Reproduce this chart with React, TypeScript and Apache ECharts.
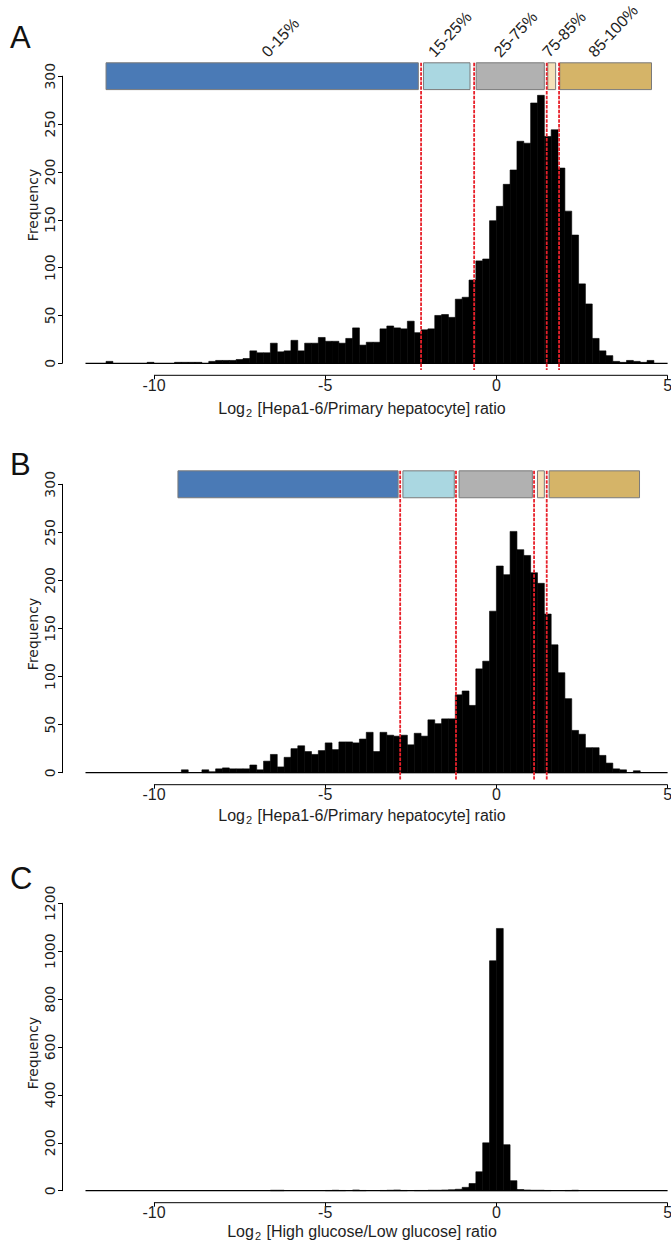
import React, { useEffect, useRef } from "react";
import * as echarts from "echarts";

// ---------- data ----------
const BIN_WIDTH = 0.2;
const X_MIN = -12;
const X_MAX = 5;
const X_TICKS = [-10, -5, 0, 5];

// Panel A: Log2 [Hepa1-6/Primary hepatocyte] ratio, bins of 0.2 starting at aStart
const aStart = -11.6;
const aCounts = [
  0, 2, 0, 0, 0, 0, 0, 1, 0, 0, 0, 1, 1, 1, 1, 0, 2, 3, 3, 3,
  4, 5, 13, 11, 11, 21, 12, 13, 24, 13, 21, 21, 27, 23, 23, 21, 26, 37, 19, 22,
  22, 36, 39, 37, 36, 44, 32, 35, 36, 50, 51, 48, 67, 69, 87, 107, 109, 149, 164, 187,
  202, 232, 230, 272, 280, 237, 244, 204, 159, 134, 83, 62, 26, 13, 8, 2, 1, 3, 2, 1,
  3,
];

// Panel B
const bStart = -9.4;
const bCounts = [
  0, 3, 0, 0, 3, 1, 4, 5, 4, 4, 4, 8, 3, 12, 19, 6, 16, 25, 28, 22,
  19, 23, 31, 24, 32, 32, 31, 35, 42, 22, 42, 39, 38, 39, 29, 41, 38, 55, 51, 56,
  56, 81, 85, 70, 108, 116, 168, 215, 206, 251, 232, 226, 208, 197, 165, 133, 104, 77, 44, 40,
  26, 26, 18, 10, 4, 3, 0, 2,
];

// Panel C: Log2 [High glucose/Low glucose] ratio
const cStart = -7.0;
const cCounts = [
  0, 0, 2, 2, 0, 0, 0, 0, 0, 0, 1, 2, 1, 0, 3, 1, 0, 0, 1, 2,
  3, 1, 0, 1, 1, 2, 2, 3, 4, 6, 14, 30, 79, 200, 960, 1095, 192, 42, 5, 3,
  2, 2, 1, 0, 0, 1, 2, 0,
];

// Percentile cut-offs (red dashed lines)
const aCutoffs = [-2.2, -0.65, 1.47, 1.83];
const bCutoffs = [-2.81, -1.18, 1.1, 1.47];

// Percentile segments drawn above the histograms
const aSegments = [
  [-11.4, -2.28],
  [-2.13, -0.77],
  [-0.59, 1.4],
  [1.5, 1.73],
  [1.85, 4.53],
];
const bSegments = [
  [-9.3, -2.87],
  [-2.73, -1.23],
  [-1.09, 1.05],
  [1.2, 1.4],
  [1.54, 4.18],
];
const segmentLabels = ["0-15%", "15-25%", "25-75%", "75-85%", "85-100%"];
const segmentLabelX = [-6.6, -1.74, 0.18, 1.6, 2.94];
const SEG_LOW = 286;
const SEG_HIGH = 314;
const LABEL_Y = 317;
const CUT_BOTTOM = -7;

// ---------- styles / layout ----------
const SEG_COLORS = ["#4a7ab6", "#aad7e1", "#b1b1b1", "#f4e1b8", "#d5b468"];
const SEG_STROKE = "#7a7a7a";
const RED = "#e8202a";
const TEXT = "#1e1e1e";
const SANS = "'Liberation Sans', Arial, sans-serif";
const DEJAVU = "'DejaVu Sans', Verdana, sans-serif";
const GRID_LEFT = 85.5;
const GRID_RIGHT = 3.4;
const X_AXIS_OFFSET = 12;
const Y_AXIS_OFFSET = 23.5;

const PANELS = [
  {
    top: 76.2, height: 287.1, yMax: 300, yStep: 50,
    start: aStart, counts: aCounts, cutoffs: aCutoffs, segments: aSegments, labels: true,
    letter: "A", letterY: 37, freqY: 205, titleY: 408,
    title: "{a|Log}{s|2}{a| [Hepa1-6/Primary hepatocyte] ratio}",
  },
  {
    top: 484.3, height: 288.4, yMax: 300, yStep: 50,
    start: bStart, counts: bCounts, cutoffs: bCutoffs, segments: bSegments, labels: false,
    letter: "B", letterY: 464, freqY: 634, titleY: 815,
    title: "{a|Log}{s|2}{a| [Hepa1-6/Primary hepatocyte] ratio}",
  },
  {
    top: 903.3, height: 287.4, yMax: 1200, yStep: 200,
    start: cStart, counts: cCounts, cutoffs: [] as number[], segments: [] as number[][], labels: false,
    letter: "C", letterY: 878, freqY: 1053, titleY: 1231,
    title: "{a|Log}{s|2}{a| [High glucose/Low glucose] ratio}",
  },
];

function histData(start: number, counts: number[]) {
  return counts.map((c, i) => {
    const x0 = Math.round((start + i * BIN_WIDTH) * 100) / 100;
    const x1 = Math.round((x0 + BIN_WIDTH) * 100) / 100;
    return [x0, x1, c];
  });
}

function buildOption() {
  const series: any[] = [];
  PANELS.forEach((p, i) => {
    // histogram bars
    series.push({
      type: "custom",
      name: "hist" + i,
      xAxisIndex: i,
      yAxisIndex: i,
      clip: false,
      encode: { x: [0, 1], y: 2 },
      data: histData(p.start, p.counts),
      renderItem: (params: any, api: any) => {
        const v = api.value(2);
        if (!v) return null;
        const p0 = api.coord([api.value(0), v]);
        const p1 = api.coord([api.value(1), 0]);
        return {
          type: "rect",
          shape: { x: p0[0], y: p0[1], width: p1[0] - p0[0], height: p1[1] - p0[1] },
          style: { fill: "#000", stroke: "#000", lineWidth: 0.6 },
        };
      },
    });
    // baseline and R-style x axis line
    series.push({
      type: "custom",
      name: "axes" + i,
      xAxisIndex: i,
      yAxisIndex: i,
      clip: false,
      encode: { x: [0, 1, 2, 3] },
      data: [[X_MIN, X_MAX, X_TICKS[0], X_TICKS[X_TICKS.length - 1]]],
      renderItem: (params: any, api: any) => {
        const b0 = api.coord([api.value(0), 0]);
        const b1 = api.coord([api.value(1), 0]);
        const a0 = api.coord([api.value(2), 0]);
        const a1 = api.coord([api.value(3), 0]);
        return {
          type: "group",
          children: [
            {
              type: "line",
              shape: { x1: b0[0], y1: b0[1], x2: b1[0], y2: b1[1] },
              style: { stroke: "#000", lineWidth: 1.2 },
            },
            {
              type: "line",
              shape: {
                x1: a0[0], y1: a0[1] + X_AXIS_OFFSET,
                x2: a1[0], y2: a1[1] + X_AXIS_OFFSET,
              },
              style: { stroke: "#000", lineWidth: 1 },
            },
          ],
        };
      },
    });
    if (p.segments.length) {
      series.push({
        type: "custom",
        name: "segments" + i,
        xAxisIndex: i,
        yAxisIndex: i,
        clip: false,
        encode: { x: [0, 1], y: [2, 3] },
        data: p.segments.map((s) => [s[0], s[1], SEG_LOW, SEG_HIGH]),
        renderItem: (params: any, api: any) => {
          const p0 = api.coord([api.value(0), api.value(3)]);
          const p1 = api.coord([api.value(1), api.value(2)]);
          return {
            type: "rect",
            shape: { x: p0[0], y: p0[1], width: p1[0] - p0[0], height: p1[1] - p0[1] },
            style: { fill: SEG_COLORS[params.dataIndex], stroke: SEG_STROKE, lineWidth: 1 },
          };
        },
      });
      series.push({
        type: "custom",
        name: "cutoffs" + i,
        xAxisIndex: i,
        yAxisIndex: i,
        clip: false,
        encode: { x: 0, y: [1, 2] },
        data: p.cutoffs.map((c) => [c, SEG_HIGH, CUT_BOTTOM]),
        renderItem: (params: any, api: any) => {
          const t = api.coord([api.value(0), api.value(1)]);
          const b = api.coord([api.value(0), api.value(2)]);
          return {
            type: "line",
            shape: { x1: t[0], y1: t[1], x2: b[0], y2: b[1] },
            style: { stroke: RED, lineWidth: 1.8, lineDash: [3.5, 1.2] },
          };
        },
      });
    }
    if (p.labels) {
      series.push({
        type: "custom",
        name: "labels" + i,
        xAxisIndex: i,
        yAxisIndex: i,
        clip: false,
        encode: { x: 0, y: 1 },
        data: segmentLabelX.map((x) => [x, LABEL_Y]),
        renderItem: (params: any, api: any) => {
          const pt = api.coord([api.value(0), api.value(1)]);
          return {
            type: "text",
            x: pt[0],
            y: pt[1],
            rotation: (47 * Math.PI) / 180,
            style: {
              text: segmentLabels[params.dataIndex],
              fontSize: 16,
              fontFamily: SANS,
              fill: TEXT,
              align: "left",
              verticalAlign: "bottom",
            },
          };
        },
      });
    }
  });

  const graphic: any[] = [];
  PANELS.forEach((p) => {
    graphic.push({
      type: "text",
      x: 10,
      y: p.letterY,
      style: { text: p.letter, fontSize: 31, fontFamily: SANS, fill: "#111", align: "left", verticalAlign: "middle" },
    });
    graphic.push({
      type: "text",
      x: 33,
      y: p.freqY,
      rotation: Math.PI / 2,
      style: { text: "Frequency", fontSize: 14, fontFamily: DEJAVU, fill: TEXT, align: "center", verticalAlign: "middle" },
    });
    graphic.push({
      type: "text",
      x: 362,
      y: p.titleY,
      style: {
        text: p.title,
        align: "center",
        verticalAlign: "middle",
        rich: {
          a: { fontSize: 16, fontFamily: SANS, fill: TEXT, verticalAlign: "middle" },
          s: { fontSize: 11, fontFamily: SANS, fill: TEXT, padding: [9, 1, 0, 1], verticalAlign: "middle" },
        },
      },
    });
  });

  return {
    animation: false,
    backgroundColor: "#fff",
    grid: PANELS.map((p) => ({
      left: GRID_LEFT,
      right: GRID_RIGHT,
      top: p.top,
      height: p.height,
      containLabel: false,
      outerBoundsMode: "none",
      show: false,
    })),
    xAxis: PANELS.map((p, i) => ({
      type: "value",
      gridIndex: i,
      min: X_MIN,
      max: X_MAX,
      offset: X_AXIS_OFFSET,
      axisLine: { show: false, onZero: false },
      axisTick: { show: true, customValues: X_TICKS, length: 4, lineStyle: { color: "#000", width: 1 } },
      axisLabel: { customValues: X_TICKS, fontSize: 16, fontFamily: SANS, color: TEXT, margin: 2 },
      splitLine: { show: false },
    })),
    yAxis: PANELS.map((p, i) => ({
      type: "value",
      gridIndex: i,
      min: 0,
      max: p.yMax,
      interval: p.yStep,
      offset: Y_AXIS_OFFSET,
      axisLine: { show: true, onZero: false, lineStyle: { color: "#000", width: 1 } },
      axisTick: { show: true, length: 4, lineStyle: { color: "#000", width: 1 } },
      axisLabel: {
        rotate: 90,
        fontSize: 14,
        fontFamily: DEJAVU,
        color: TEXT,
        margin: 5,
        formatter: (v: number) => String(v),
      },
      splitLine: { show: false },
    })),
    series,
    graphic,
  };
}

export default function App() {
  const ref = useRef<HTMLDivElement>(null);
  useEffect(() => {
    if (!ref.current) return;
    const chart = echarts.init(ref.current, null, { renderer: "svg" });
    chart.setOption(buildOption() as any);
    return () => chart.dispose();
  }, []);
  return (
    <div
      ref={ref}
      style={{ position: "absolute", left: 0, top: 0, width: 671, height: 1242, background: "#fff" }}
    />
  );
}
